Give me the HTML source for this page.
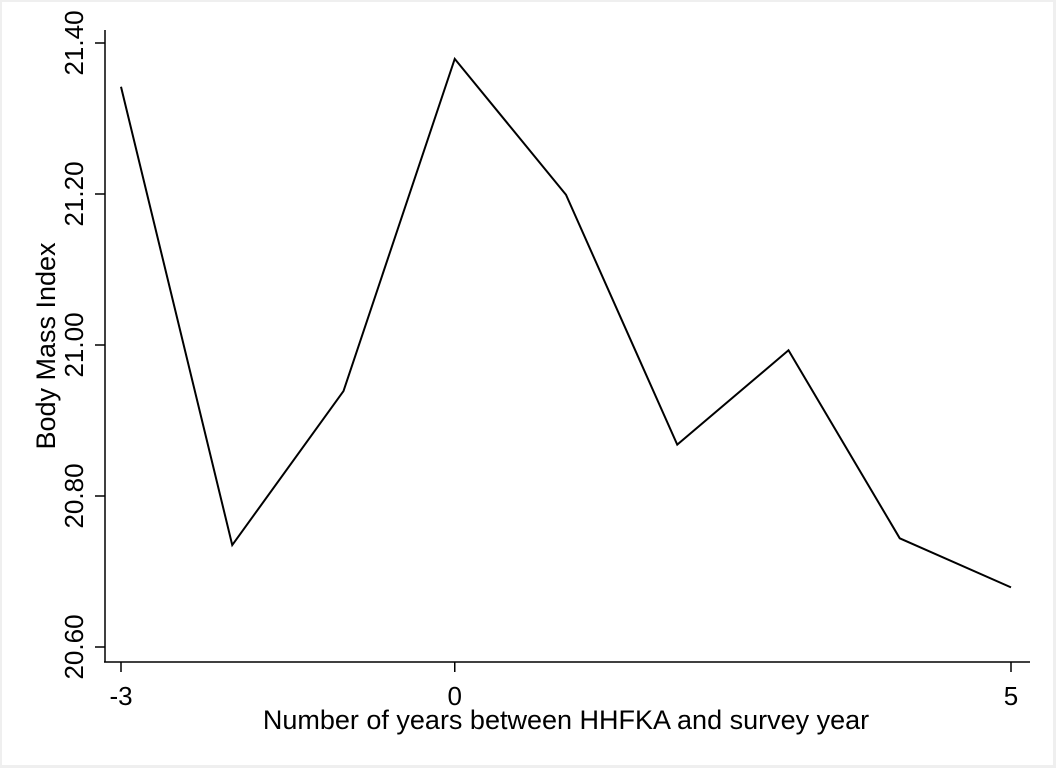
<!DOCTYPE html>
<html><head><meta charset="utf-8"><style>
html,body{margin:0;padding:0;background:#efefef;}
svg{display:block;}
text{font-family:"Liberation Sans",Arial,sans-serif;fill:#000;}
</style></head><body>
<svg id="chart" width="1056" height="768">
<rect x="2" y="2" width="1051" height="763" fill="#fff"/>
<g id="g"></g>
</svg>
<script>
const years = [-3,-2,-1,0,1,2,3,4,5];
const bmi = [21.342,20.735,20.939,21.379,21.199,20.868,20.993,20.744,20.679];
const xTicks = [-3,0,5];
const yTicks = [20.60,20.80,21.00,21.20,21.40];
const xScale = v => 121 + (v + 3) * 111.25;
const yScale = v => 647 - (v - 20.6) / 0.2 * 151;
const NS = "http://www.w3.org/2000/svg";
const g = document.getElementById('g');
function mk(tag, attrs, parent){const e=document.createElementNS(NS,tag);for(const k in attrs)e.setAttribute(k,attrs[k]);(parent||g).appendChild(e);return e;}
const yAxis = mk('line',{x1:105,y1:30,x2:105,y2:662,stroke:'#000','stroke-width':1.5});


const xAxis = mk('line',{x1:104,y1:662,x2:1030,y2:662,stroke:'#000','stroke-width':1.5});


yTicks.forEach(t=>{
  const y=yScale(t);
  const tk=mk('line',{x1:95,y1:y,x2:105,y2:y,stroke:'#000','stroke-width':1.5});
  
  
  const tx=mk('text',{x:0,y:0,'font-size':26,'text-anchor':'middle',transform:`translate(83,${y}) rotate(-90)`});
  tx.textContent=t.toFixed(2);
  
  
});
xTicks.forEach(t=>{
  const x=xScale(t);
  const tk=mk('line',{x1:x,y1:662,x2:x,y2:672,stroke:'#000','stroke-width':1.5});
  
  
  const tx=mk('text',{x:x,y:705,'font-size':26,'text-anchor':'middle'});
  tx.textContent=String(t);
  
  
});
const line=mk('polyline',{points:years.map((v,i)=>xScale(v)+','+yScale(bmi[i])).join(' '),fill:'none',stroke:'#000','stroke-width':2});


const xt=mk('text',{x:566,y:729,'font-size':27,'text-anchor':'middle'});
xt.textContent='Number of years between HHFKA and survey year';


const yt=mk('text',{x:0,y:0,'font-size':27,'text-anchor':'middle',transform:'translate(55,346) rotate(-90)'});
yt.textContent='Body Mass Index';


</script>
</body></html>
